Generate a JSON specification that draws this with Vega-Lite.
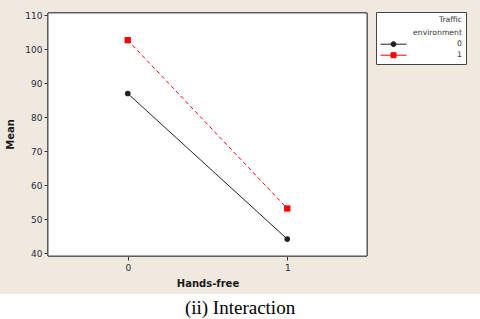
{
  "$schema": "https://vega.github.io/schema/vega-lite/v6.json",
  "width": 480,
  "height": 294,
  "autosize": {"type": "none"},
  "padding": {"left": 0, "top": 0, "right": 0, "bottom": 25},
  "background": "#ffffff",
  "title": {
    "text": "(ii) Interaction",
    "orient": "bottom",
    "anchor": "middle",
    "font": "Liberation Serif",
    "fontSize": 19,
    "fontWeight": "normal",
    "color": "#000000",
    "baseline": "top",
    "offset": 5
  },
  "data": {
    "values": [
      {"hf": 0, "env": "0", "mean": 86.9},
      {"hf": 1, "env": "0", "mean": 44.1},
      {"hf": 0, "env": "1", "mean": 102.6},
      {"hf": 1, "env": "1", "mean": 53.1}
    ]
  },
  "encoding": {
    "x": {
      "field": "hf",
      "type": "quantitative",
      "scale": {"domain": [-0.5, 1.5], "range": [48, 367], "nice": false, "zero": false},
      "axis": {
        "orient": "bottom",
        "offset": -38,
        "values": [0, 1],
        "format": "d",
        "domain": false,
        "grid": false,
        "ticks": true,
        "tickSize": 4,
        "tickColor": "#333333",
        "labelFont": "DejaVu Sans",
        "labelFontSize": 9,
        "labelColor": "#2a2a40",
        "labelPadding": 3,
        "title": "Hands-free",
        "titleFont": "DejaVu Sans",
        "titleFontSize": 10,
        "titleFontWeight": "bold",
        "titleColor": "#1a1a1a",
        "titlePadding": 6
      }
    },
    "y": {
      "field": "mean",
      "type": "quantitative",
      "scale": {"domain": [40, 110], "range": [253, 15], "nice": false, "zero": false},
      "axis": {
        "orient": "left",
        "offset": -48,
        "values": [40, 50, 60, 70, 80, 90, 100, 110],
        "domain": false,
        "grid": false,
        "tickSize": 4,
        "tickColor": "#333333",
        "labelFont": "DejaVu Sans",
        "labelFontSize": 9,
        "labelColor": "#2a2a40",
        "labelPadding": 2,
        "title": "Mean",
        "titleFont": "DejaVu Sans",
        "titleFontSize": 10,
        "titleFontWeight": "bold",
        "titleColor": "#1a1a1a",
        "titlePadding": 9
      }
    }
  },
  "layer": [
    {
      "mark": {"type": "rect", "fill": "#ffffff", "stroke": "#555555", "strokeWidth": 1},
      "encoding": {
        "x": {"datum": -0.5, "type": "quantitative"},
        "x2": {"datum": 1.5},
        "y": {"datum": 39.12, "type": "quantitative"},
        "y2": {"datum": 110.6}
      }
    },
    {
      "transform": [{"filter": "datum.env == '0'"}],
      "mark": {"type": "line", "strokeWidth": 1},
      "encoding": {
        "color": {
          "field": "env",
          "type": "nominal",
          "title": ["Traffic", "environment"],
          "scale": {"domain": ["0", "1"], "range": ["#222222", "#ff0000"]}
        }
      }
    },
    {
      "transform": [{"filter": "datum.env == '1'"}],
      "mark": {"type": "line", "strokeWidth": 1, "strokeDash": [4, 3]},
      "encoding": {
        "color": {"field": "env", "type": "nominal", "title": ["Traffic", "environment"]}
      }
    },
    {
      "transform": [{"filter": "datum.env == '0'"}],
      "mark": {"type": "point", "filled": true, "shape": "circle", "size": 32, "opacity": 1},
      "encoding": {
        "color": {"field": "env", "type": "nominal", "title": ["Traffic", "environment"]}
      }
    },
    {
      "transform": [{"filter": "datum.env == '1'"}],
      "mark": {"type": "point", "filled": true, "shape": "square", "size": 40, "opacity": 1},
      "encoding": {
        "color": {"field": "env", "type": "nominal", "title": ["Traffic", "environment"]}
      }
    },
    {
      "mark": {"type": "point", "filled": true, "strokeWidth": 1, "fillOpacity": 0, "strokeOpacity": 0},
      "encoding": {
        "color": {
          "field": "env",
          "type": "nominal",
          "title": ["Traffic", "environment"],
          "legend": {
            "orient": "none",
            "legendX": 376,
            "legendY": 12,
            "padding": 4,
            "strokeColor": "#444444",
            "fillColor": "#ffffff"
          }
        },
        "stroke": {
          "field": "env",
          "type": "nominal",
          "title": ["Traffic", "environment"],
          "scale": {"domain": ["0", "1"], "range": ["#000000", "#ff0000"]},
          "legend": {
            "orient": "none",
            "legendX": 376,
            "legendY": 12,
            "padding": 4,
            "strokeColor": "#444444",
            "fillColor": "#ffffff"
          }
        },
        "shape": {
          "field": "env",
          "type": "nominal",
          "title": ["Traffic", "environment"],
          "scale": {
            "domain": ["0", "1"],
            "range": [
              "M-1,0H4.2M2.1,0A0.5,0.5,0,1,1,1.1,0A0.5,0.5,0,1,1,2.1,0Z",
              "M-1,0H4.2M1.1,-0.5H2.1V0.5H1.1Z"
            ]
          },
          "legend": {
            "orient": "none",
            "legendX": 376,
            "legendY": 12,
            "padding": 4,
            "strokeColor": "#444444",
            "fillColor": "#ffffff"
          }
        }
      }
    }
  ],
  "config": {
    "view": {"fill": "#efe9df", "stroke": null},
    "legend": {
      "cornerRadius": 0,
      "symbolSize": 100,
      "symbolStrokeWidth": 1,
      "symbolOpacity": 1,
      "titleFont": "DejaVu Sans",
      "titleFontSize": 7.7,
      "titleFontWeight": "normal",
      "titleColor": "#333333",
      "titleAnchor": "end",
      "titleAlign": "right",
      "titleLineHeight": 13,
      "titlePadding": 2,
      "labelFont": "DejaVu Sans",
      "labelFontSize": 7.7,
      "labelColor": "#333333",
      "labelOffset": 66,
      "rowPadding": 1
    }
  }
}
